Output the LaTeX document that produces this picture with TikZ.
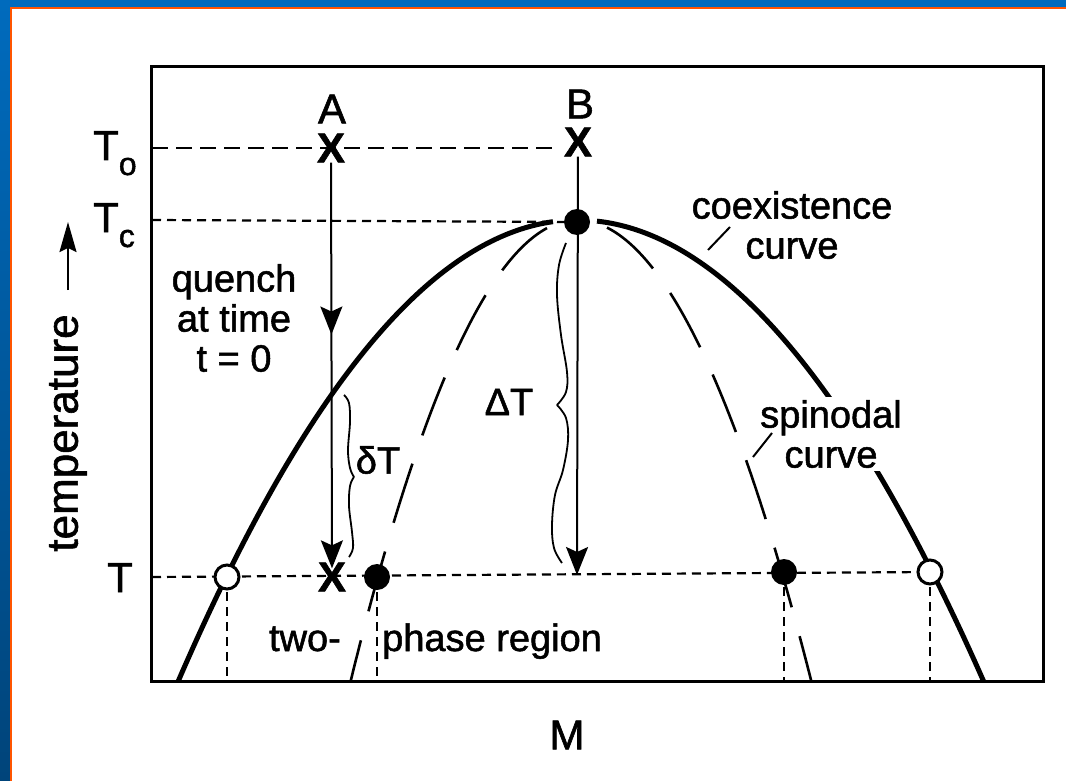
\documentclass[tikz,border=0pt]{standalone}
\usepackage{fontspec}
\setmainfont{Liberation Sans}[FakeBold=1.4]
\usetikzlibrary{arrows.meta,decorations.markings}
\definecolor{blueTop}{RGB}{0,107,189}
\definecolor{blueBot}{RGB}{0,68,122}
\definecolor{orangeL}{RGB}{255,85,0}
\begin{document}
\begin{tikzpicture}[x=1pt,y=-1pt,
  lbl/.style={inner sep=0pt, font=\fontsize{38}{40}\selectfont},
  letter/.style={inner sep=0pt, font=\fontsize{42}{42}\selectfont},
  axlbl/.style={inner sep=0pt, font=\fontsize{42}{42}\selectfont},
  cross/.style={inner sep=0pt, font=\fontsize{42}{42}\selectfont\bfseries},
  shortdash/.style={line width=2.2pt, dash pattern=on 9pt off 6pt},
  longdash/.style={line width=2.2pt, dash pattern=on 16pt off 8pt},
  coex/.style={line width=5pt},
  spin/.style={line width=2.6pt, dash pattern=on 62pt off 30pt},
  arr/.style={line width=2pt, -{Stealth[length=28pt,width=22pt,inset=5pt]}},
  fdot/.style={circle, fill=black, minimum size=26pt, inner sep=0pt},
  odot/.style={circle, draw=black, line width=3pt, fill=white, minimum size=24pt, inner sep=0pt},
  brace/.style={line width=1.8pt},
  leader/.style={line width=2pt},
]
\useasboundingbox (0,0) rectangle (1066,781);
\fill[white] (0,0) rectangle (1066,781);
% slide frame
\shade[top color=blueTop, bottom color=blueBot] (0,0) rectangle (10,781);
\fill[blueTop] (0,0) rectangle (1066,7);
\fill[orangeL] (10,7) rectangle (1066,9);
\fill[orangeL] (10,7) rectangle (12,781);

% plot frame
\draw[line width=3pt] (151,67) rectangle (1043,681);

% coordinates
\coordinate (ToL) at (152,148);
\coordinate (ToR) at (552,148);
\coordinate (TcL) at (152,220);
\coordinate (TL)  at (152,577);
\coordinate (pcrit) at (577,222);
\coordinate (pOL) at (227,577);
\coordinate (pSL) at (377,577);
\coordinate (pSR) at (784,572);
\coordinate (pOR) at (930,572);
\coordinate (bOL) at (227,680);
\coordinate (bSL) at (377,680);
\coordinate (bSR) at (784,680);
\coordinate (bOR) at (930,680);
\coordinate (bEnd) at (577,575);
\coordinate (tArrB) at (68,290);
\coordinate (tArrT) at (68,222);
\coordinate (coLa) at (730,227);
\coordinate (coLb) at (708,250);
\coordinate (spLa) at (772,433);
\coordinate (spLb) at (753,457);

% dashed guide lines
\draw[longdash] (ToL) -- (ToR);
\draw[shortdash] (TcL) -- (pcrit);
\draw[shortdash] (TL) -- (pOR);
\draw[shortdash] (pOL) -- (bOL);
\draw[shortdash] (pSL) -- (bSL);
\draw[shortdash] (pSR) -- (bSR);
\draw[shortdash] (pOR) -- (bOR);

% coexistence curve
\draw[coex] plot[domain=-3.987:-0.24, samples=80] ({577+100*\x},{220+29*\x*\x});
\draw[coex] plot[domain=0.2:4.065, samples=80] ({577+100*\x},{220+27.9*\x*\x});

% spinodal curve
\draw[spin] plot[domain=-0.3:-2.263, samples=80] ({577+100*\x},{220+90*\x*\x});
\draw[spin] plot[domain=0.3:2.343, samples=80] ({577+100*\x},{220+84*\x*\x});

% markers
\node[cross] (xA) at (331,148) {X};
\node[cross] (xB) at (578,142) {X};
\node[cross] (xA1) at (332,577) {X};

% arrows
\draw[arr] (xB) -- (bEnd);
\draw[arr, shorten >=-6pt, postaction={decorate},
  decoration={markings, mark=at position 0.43 with {\arrow{Stealth[length=28pt,width=22pt,inset=5pt]}}}]
  (xA) -- (xA1);

% points
\node[fdot] (crit) at (pcrit) {};
\node[odot] (oL) at (pOL) {};
\node[fdot] (sL) at (pSL) {};
\node[fdot] (sR) at (pSR) {};
\node[odot] (oR) at (pOR) {};

% braces
\draw[brace] plot[smooth, tension=0.6] coordinates {(344,395) (349,403) (350,422) (348,450) (350,468) (354,477)};
\draw[brace] plot[smooth, tension=0.6] coordinates {(354,477) (350,486) (349,506) (352,532) (353,548) (349,557)};
\draw[brace] plot[smooth, tension=0.6] coordinates {(566,243) (559,265) (557,295) (561,335) (567,372) (566,392) (557,405)};
\draw[brace] plot[smooth, tension=0.6] coordinates {(557,405) (566,418) (568,440) (563,470) (555,495) (552,525) (554,548) (562,563)};

% labels
\node[letter] (A) at (332,109) {A};
\node[letter] (B) at (580,104) {B};
\node[axlbl, anchor=base west] (To) at (93,160) {T\raisebox{-15pt}{\fontsize{32}{32}\selectfont o}};
\node[axlbl, anchor=base west] (Tc) at (93,232) {T\raisebox{-15pt}{\fontsize{32}{32}\selectfont c}};
\node[axlbl, anchor=base west] (T) at (107,592) {T};
\node[inner sep=0pt, font=\fontsize{44}{44}\selectfont, rotate=90] (temp) at (68,433) {temperature};
\draw[line width=2pt, -{Stealth[length=30pt,width=17pt,inset=4pt]}] (tArrB) -- (tArrT);
\node[axlbl] (M) at (567,735) {M};

\node[lbl, align=center] (quench) at (234,318) {quench\\at time\\t = 0};
\node[lbl, align=center] (coexlbl) at (792,225) {coexistence\\curve};
\draw[leader] (coLa) -- (coLb);
\node[lbl, align=center, fill=white, inner sep=3pt] (spinlbl) at (831,434) {spinodal\\curve};
\draw[leader] (spLa) -- (spLb);
\node[lbl] (dT) at (378,460) {δT};
\node[lbl] (DT) at (509,402) {ΔT};
\node[lbl, anchor=base east] (two) at (341,651) {two-};
\node[lbl, anchor=base west] (phase) at (382,651) {phase region};
\end{tikzpicture}
\end{document}
